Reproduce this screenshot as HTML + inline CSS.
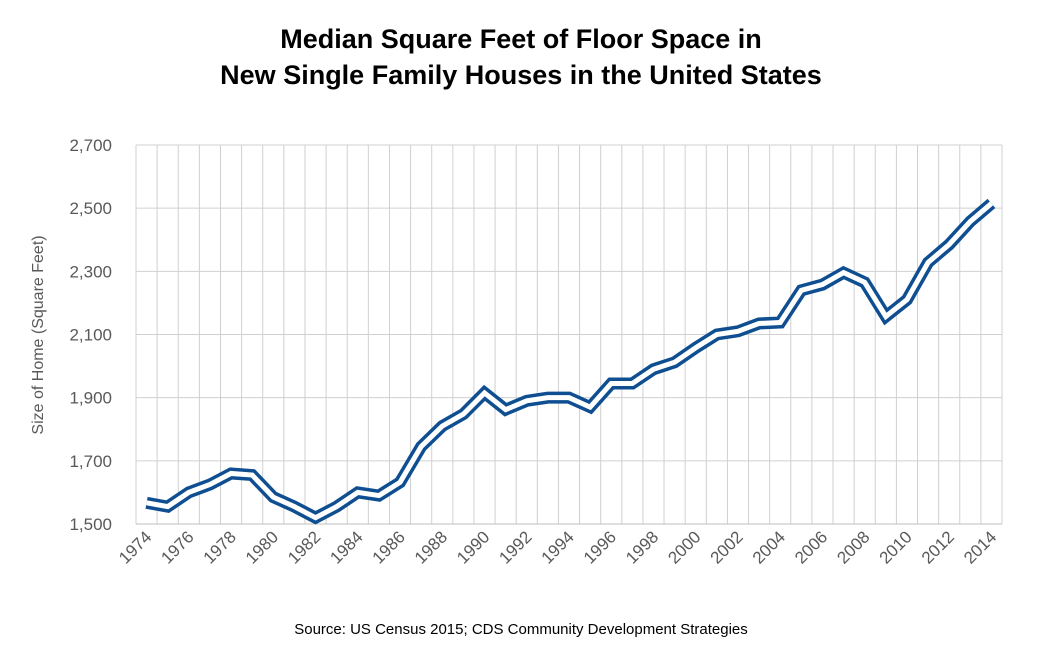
<!DOCTYPE html>
<html><head><meta charset="utf-8"><style>
body{margin:0;background:#fff;}
svg{display:block;font-family:"Liberation Sans",sans-serif;}
</style></head><body>
<svg id="c" width="1044" height="659">
<text x="521" y="48" text-anchor="middle" font-size="27" font-weight="bold" fill="#000">Median Square Feet of Floor Space in</text>
<text x="521" y="84" text-anchor="middle" font-size="27" font-weight="bold" fill="#000">New Single Family Houses in the United States</text>
<text transform="translate(43,335) rotate(-90)" text-anchor="middle" font-size="16" fill="#595959">Size of Home (Square Feet)</text>
<text x="521" y="634" text-anchor="middle" font-size="15" fill="#000">Source: US Census 2015; CDS Community Development Strategies</text>
<g id="grid"></g><g id="axes"></g><g id="series"></g>
</svg>
<script>
const years=[1974,1975,1976,1977,1978,1979,1980,1981,1982,1983,1984,1985,1986,1987,1988,1989,1990,1991,1992,1993,1994,1995,1996,1997,1998,1999,2000,2001,2002,2003,2004,2005,2006,2007,2008,2009,2010,2011,2012,2013,2014];
const sqft=[1567,1555,1600,1625,1660,1655,1585,1555,1520,1555,1600,1590,1632,1745,1810,1848,1915,1862,1890,1900,1900,1870,1945,1945,1990,2012,2058,2100,2110,2135,2138,2240,2258,2296,2265,2157,2210,2328,2385,2458,2515];
const yTicks=[1500,1700,1900,2100,2300,2500,2700];
const L=136,R=1002,T=145,B=524,ymin=1500,ymax=2700;
const bw=(R-L)/years.length;
const x=i=>L+(i+0.5)*bw;
const y=v=>B-(v-ymin)/(ymax-ymin)*(B-T);
const NS="http://www.w3.org/2000/svg";
function mk(t,a,p){const e=document.createElementNS(NS,t);for(const k in a)e.setAttribute(k,a[k]);p.appendChild(e);return e;}
const g=document.getElementById('grid'),ax=document.getElementById('axes'),s=document.getElementById('series');
for(let i=0;i<=years.length;i++){const xx=L+i*bw;const l=mk('line',{x1:xx,x2:xx,y1:T,y2:B,stroke:'#d0d0d0','stroke-width':1},g);

}
yTicks.forEach(v=>{const l=mk('line',{x1:L,x2:R,y1:y(v),y2:y(v),stroke:v===ymin?'#bfbfbf':'#d0d0d0','stroke-width':1},g);


const t=mk('text',{x:112,y:y(v)+6,'text-anchor':'end','font-size':17,fill:'#595959'},ax);t.textContent=v.toLocaleString('en-US');

});
years.forEach((yr,i)=>{if(i%2)return;const t=mk('text',{transform:`translate(${x(i)+6},${B+14}) rotate(-45)`,'text-anchor':'end','font-size':17,fill:'#595959'},ax);t.textContent=yr;

});
const pts=sqft.map((v,i)=>x(i)+','+y(v)).join(' ');
const o=mk('polyline',{points:pts,fill:'none',stroke:'#0f4f91','stroke-width':12,'stroke-linejoin':'miter','stroke-miterlimit':3},s);


const w=mk('polyline',{points:pts,fill:'none',stroke:'#fff','stroke-width':5,'stroke-linejoin':'miter','stroke-miterlimit':3},s);


</script>
</body></html>
